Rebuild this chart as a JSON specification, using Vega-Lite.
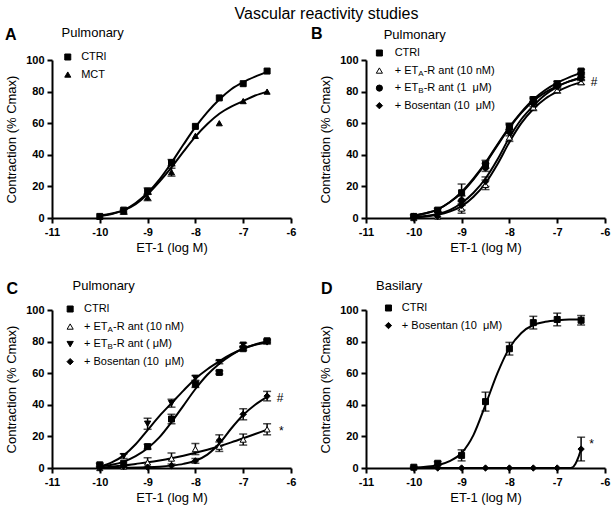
{
"$schema": "https://vega.github.io/schema/vega-lite/v6.json",
"padding": 5,
"title": {"text": "Vascular reactivity studies", "fontSize": 16, "fontWeight": "normal", "font": "Liberation Sans", "color": "black", "anchor": "middle", "dx": 19},
"datasets": {
"pts": [
{"p":"A","s":"CTRl","x":-10,"y":1,"e":0},{"p":"A","s":"CTRl","x":-9.5,"y":5,"e":0},{"p":"A","s":"CTRl","x":-9,"y":17,"e":2},{"p":"A","s":"CTRl","x":-8.5,"y":35,"e":2},{"p":"A","s":"CTRl","x":-8,"y":58,"e":0},{"p":"A","s":"CTRl","x":-7.5,"y":76,"e":0},{"p":"A","s":"CTRl","x":-7,"y":85,"e":0},{"p":"A","s":"CTRl","x":-6.5,"y":93,"e":0},
{"p":"A","s":"MCT","x":-10,"y":1,"e":0},{"p":"A","s":"MCT","x":-9.5,"y":4,"e":1.5},{"p":"A","s":"MCT","x":-9,"y":13,"e":2},{"p":"A","s":"MCT","x":-8.5,"y":29,"e":2.5},{"p":"A","s":"MCT","x":-8,"y":52,"e":0},{"p":"A","s":"MCT","x":-7.5,"y":60,"e":0},{"p":"A","s":"MCT","x":-7,"y":74,"e":0},{"p":"A","s":"MCT","x":-6.5,"y":80,"e":0},
{"p":"B","s":"CTRl","x":-10,"y":1,"e":1},{"p":"B","s":"CTRl","x":-9.5,"y":5,"e":1},{"p":"B","s":"CTRl","x":-9,"y":16,"e":5.5},{"p":"B","s":"CTRl","x":-8.5,"y":34,"e":2.5},{"p":"B","s":"CTRl","x":-8,"y":58,"e":2},{"p":"B","s":"CTRl","x":-7.5,"y":75,"e":1.5},{"p":"B","s":"CTRl","x":-7,"y":85,"e":1.5},{"p":"B","s":"CTRl","x":-6.5,"y":93,"e":1},
{"p":"B","s":"ETA","x":-10,"y":0,"e":0},{"p":"B","s":"ETA","x":-9.5,"y":1,"e":0},{"p":"B","s":"ETA","x":-9,"y":6,"e":3},{"p":"B","s":"ETA","x":-8.5,"y":21,"e":3},{"p":"B","s":"ETA","x":-8,"y":51,"e":2.5},{"p":"B","s":"ETA","x":-7.5,"y":70,"e":2},{"p":"B","s":"ETA","x":-7,"y":81,"e":2},{"p":"B","s":"ETA","x":-6.5,"y":86,"e":1.5},
{"p":"B","s":"ETB1","x":-10,"y":1,"e":0},{"p":"B","s":"ETB1","x":-9.5,"y":4,"e":0},{"p":"B","s":"ETB1","x":-9,"y":11,"e":3},{"p":"B","s":"ETB1","x":-8.5,"y":32,"e":2.5},{"p":"B","s":"ETB1","x":-8,"y":57,"e":2},{"p":"B","s":"ETB1","x":-7.5,"y":74,"e":1.5},{"p":"B","s":"ETB1","x":-7,"y":84,"e":1},{"p":"B","s":"ETB1","x":-6.5,"y":90,"e":1},
{"p":"B","s":"Bos","x":-10,"y":0,"e":0},{"p":"B","s":"Bos","x":-9.5,"y":1,"e":0},{"p":"B","s":"Bos","x":-9,"y":8,"e":3},{"p":"B","s":"Bos","x":-8.5,"y":23,"e":3},{"p":"B","s":"Bos","x":-8,"y":54,"e":2},{"p":"B","s":"Bos","x":-7.5,"y":72,"e":1.5},{"p":"B","s":"Bos","x":-7,"y":83,"e":1},{"p":"B","s":"Bos","x":-6.5,"y":88,"e":1},
{"p":"C","s":"CTRl","x":-10,"y":2,"e":1},{"p":"C","s":"CTRl","x":-9.5,"y":3,"e":0},{"p":"C","s":"CTRl","x":-9,"y":13.5,"e":1.5},{"p":"C","s":"CTRl","x":-8.5,"y":31,"e":3},{"p":"C","s":"CTRl","x":-8,"y":53,"e":2},{"p":"C","s":"CTRl","x":-7.5,"y":60.5,"e":1},{"p":"C","s":"CTRl","x":-7,"y":75.5,"e":1},{"p":"C","s":"CTRl","x":-6.5,"y":80.5,"e":1},
{"p":"C","s":"ETA","x":-10,"y":0,"e":0},{"p":"C","s":"ETA","x":-9.5,"y":1,"e":0},{"p":"C","s":"ETA","x":-9,"y":3.5,"e":3},{"p":"C","s":"ETA","x":-8.5,"y":6,"e":3.5},{"p":"C","s":"ETA","x":-8,"y":12,"e":3.5},{"p":"C","s":"ETA","x":-7.5,"y":13.5,"e":3},{"p":"C","s":"ETA","x":-7,"y":18,"e":3.5},{"p":"C","s":"ETA","x":-6.5,"y":24.5,"e":3.5},
{"p":"C","s":"ETB","x":-10,"y":0.5,"e":0},{"p":"C","s":"ETB","x":-9.5,"y":7.5,"e":1.5},{"p":"C","s":"ETB","x":-9,"y":28,"e":3.5},{"p":"C","s":"ETB","x":-8.5,"y":41,"e":2.5},{"p":"C","s":"ETB","x":-8,"y":57,"e":1.5},{"p":"C","s":"ETB","x":-7.5,"y":67,"e":1},{"p":"C","s":"ETB","x":-7,"y":78,"e":1},{"p":"C","s":"ETB","x":-6.5,"y":79.5,"e":1},
{"p":"C","s":"Bos","x":-10,"y":0,"e":0},{"p":"C","s":"Bos","x":-9.5,"y":1,"e":0},{"p":"C","s":"Bos","x":-9,"y":0.5,"e":0},{"p":"C","s":"Bos","x":-8.5,"y":1.5,"e":0},{"p":"C","s":"Bos","x":-8,"y":4.5,"e":1.5},{"p":"C","s":"Bos","x":-7.5,"y":17.5,"e":3.5},{"p":"C","s":"Bos","x":-7,"y":34,"e":3.5},{"p":"C","s":"Bos","x":-6.5,"y":45.5,"e":3},
{"p":"D","s":"CTRl","x":-10,"y":0.5,"e":0.5},{"p":"D","s":"CTRl","x":-9.5,"y":3,"e":1},{"p":"D","s":"CTRl","x":-9,"y":8,"e":3.5},{"p":"D","s":"CTRl","x":-8.5,"y":42,"e":6},{"p":"D","s":"CTRl","x":-8,"y":75.5,"e":4},{"p":"D","s":"CTRl","x":-7.5,"y":92,"e":4},{"p":"D","s":"CTRl","x":-7,"y":94,"e":4},{"p":"D","s":"CTRl","x":-6.5,"y":93.5,"e":3},
{"p":"D","s":"Bos","x":-10,"y":0,"e":0},{"p":"D","s":"Bos","x":-9.5,"y":0,"e":0},{"p":"D","s":"Bos","x":-9,"y":0,"e":0},{"p":"D","s":"Bos","x":-8.5,"y":0,"e":0},{"p":"D","s":"Bos","x":-8,"y":0,"e":0},{"p":"D","s":"Bos","x":-7.5,"y":0,"e":0},{"p":"D","s":"Bos","x":-7,"y":0,"e":0},{"p":"D","s":"Bos","x":-6.5,"y":12,"e":7.5}
],
"crv": [
{"p":"A","s":"CTRl","x":-10,"y":1.5},{"p":"A","s":"CTRl","x":-9.75,"y":2.8},{"p":"A","s":"CTRl","x":-9.5,"y":5},{"p":"A","s":"CTRl","x":-9.25,"y":9.5},{"p":"A","s":"CTRl","x":-9,"y":16},{"p":"A","s":"CTRl","x":-8.75,"y":24.5},{"p":"A","s":"CTRl","x":-8.5,"y":35},{"p":"A","s":"CTRl","x":-8.25,"y":46.5},{"p":"A","s":"CTRl","x":-8,"y":57.5},{"p":"A","s":"CTRl","x":-7.75,"y":67},{"p":"A","s":"CTRl","x":-7.5,"y":75},{"p":"A","s":"CTRl","x":-7.25,"y":81.5},{"p":"A","s":"CTRl","x":-7,"y":86},{"p":"A","s":"CTRl","x":-6.75,"y":89.5},{"p":"A","s":"CTRl","x":-6.5,"y":92.5},
{"p":"A","s":"MCT","x":-10,"y":1.2},{"p":"A","s":"MCT","x":-9.75,"y":2.5},{"p":"A","s":"MCT","x":-9.5,"y":4.8},{"p":"A","s":"MCT","x":-9.25,"y":8.8},{"p":"A","s":"MCT","x":-9,"y":15},{"p":"A","s":"MCT","x":-8.75,"y":23},{"p":"A","s":"MCT","x":-8.5,"y":32},{"p":"A","s":"MCT","x":-8.25,"y":42},{"p":"A","s":"MCT","x":-8,"y":51.5},{"p":"A","s":"MCT","x":-7.75,"y":59.5},{"p":"A","s":"MCT","x":-7.5,"y":66},{"p":"A","s":"MCT","x":-7.25,"y":70.5},{"p":"A","s":"MCT","x":-7,"y":74},{"p":"A","s":"MCT","x":-6.75,"y":77.5},{"p":"A","s":"MCT","x":-6.5,"y":80},
{"p":"B","s":"CTRl","x":-10,"y":1.5},{"p":"B","s":"CTRl","x":-9.75,"y":3},{"p":"B","s":"CTRl","x":-9.5,"y":5.5},{"p":"B","s":"CTRl","x":-9.25,"y":10},{"p":"B","s":"CTRl","x":-9,"y":16.5},{"p":"B","s":"CTRl","x":-8.75,"y":25},{"p":"B","s":"CTRl","x":-8.5,"y":35},{"p":"B","s":"CTRl","x":-8.25,"y":46.5},{"p":"B","s":"CTRl","x":-8,"y":57.5},{"p":"B","s":"CTRl","x":-7.75,"y":67},{"p":"B","s":"CTRl","x":-7.5,"y":75},{"p":"B","s":"CTRl","x":-7.25,"y":81},{"p":"B","s":"CTRl","x":-7,"y":85.5},{"p":"B","s":"CTRl","x":-6.75,"y":89},{"p":"B","s":"CTRl","x":-6.5,"y":92},
{"p":"B","s":"ETB1","x":-10,"y":1.5},{"p":"B","s":"ETB1","x":-9.75,"y":3},{"p":"B","s":"ETB1","x":-9.5,"y":5.5},{"p":"B","s":"ETB1","x":-9.25,"y":10},{"p":"B","s":"ETB1","x":-9,"y":16},{"p":"B","s":"ETB1","x":-8.75,"y":24.5},{"p":"B","s":"ETB1","x":-8.5,"y":34.5},{"p":"B","s":"ETB1","x":-8.25,"y":46},{"p":"B","s":"ETB1","x":-8,"y":57},{"p":"B","s":"ETB1","x":-7.75,"y":66.5},{"p":"B","s":"ETB1","x":-7.5,"y":74},{"p":"B","s":"ETB1","x":-7.25,"y":79.5},{"p":"B","s":"ETB1","x":-7,"y":83.5},{"p":"B","s":"ETB1","x":-6.75,"y":86.5},{"p":"B","s":"ETB1","x":-6.5,"y":89},
{"p":"B","s":"Bos","x":-10,"y":0.5},{"p":"B","s":"Bos","x":-9.75,"y":1.2},{"p":"B","s":"Bos","x":-9.5,"y":2.5},{"p":"B","s":"Bos","x":-9.25,"y":5},{"p":"B","s":"Bos","x":-9,"y":9.5},{"p":"B","s":"Bos","x":-8.75,"y":16},{"p":"B","s":"Bos","x":-8.5,"y":25},{"p":"B","s":"Bos","x":-8.25,"y":37},{"p":"B","s":"Bos","x":-8,"y":51},{"p":"B","s":"Bos","x":-7.75,"y":62.5},{"p":"B","s":"Bos","x":-7.5,"y":71},{"p":"B","s":"Bos","x":-7.25,"y":78},{"p":"B","s":"Bos","x":-7,"y":83},{"p":"B","s":"Bos","x":-6.75,"y":86.5},{"p":"B","s":"Bos","x":-6.5,"y":88.5},
{"p":"B","s":"ETA","x":-10,"y":0.5},{"p":"B","s":"ETA","x":-9.75,"y":1},{"p":"B","s":"ETA","x":-9.5,"y":2},{"p":"B","s":"ETA","x":-9.25,"y":4},{"p":"B","s":"ETA","x":-9,"y":7.5},{"p":"B","s":"ETA","x":-8.75,"y":13.5},{"p":"B","s":"ETA","x":-8.5,"y":22},{"p":"B","s":"ETA","x":-8.25,"y":34},{"p":"B","s":"ETA","x":-8,"y":48},{"p":"B","s":"ETA","x":-7.75,"y":60},{"p":"B","s":"ETA","x":-7.5,"y":69},{"p":"B","s":"ETA","x":-7.25,"y":75.5},{"p":"B","s":"ETA","x":-7,"y":80},{"p":"B","s":"ETA","x":-6.75,"y":83.5},{"p":"B","s":"ETA","x":-6.5,"y":86},
{"p":"C","s":"CTRl","x":-10,"y":1},{"p":"C","s":"CTRl","x":-9.75,"y":2},{"p":"C","s":"CTRl","x":-9.5,"y":4},{"p":"C","s":"CTRl","x":-9.25,"y":7.5},{"p":"C","s":"CTRl","x":-9,"y":12.5},{"p":"C","s":"CTRl","x":-8.75,"y":19.5},{"p":"C","s":"CTRl","x":-8.5,"y":29},{"p":"C","s":"CTRl","x":-8.25,"y":39.5},{"p":"C","s":"CTRl","x":-8,"y":50},{"p":"C","s":"CTRl","x":-7.75,"y":59},{"p":"C","s":"CTRl","x":-7.5,"y":66},{"p":"C","s":"CTRl","x":-7.25,"y":71.5},{"p":"C","s":"CTRl","x":-7,"y":75.5},{"p":"C","s":"CTRl","x":-6.75,"y":78.2},{"p":"C","s":"CTRl","x":-6.5,"y":80},
{"p":"C","s":"ETB","x":-10,"y":0.8},{"p":"C","s":"ETB","x":-9.75,"y":3.5},{"p":"C","s":"ETB","x":-9.5,"y":8},{"p":"C","s":"ETB","x":-9.25,"y":15},{"p":"C","s":"ETB","x":-9,"y":24},{"p":"C","s":"ETB","x":-8.75,"y":33},{"p":"C","s":"ETB","x":-8.5,"y":41},{"p":"C","s":"ETB","x":-8.25,"y":49},{"p":"C","s":"ETB","x":-8,"y":56.5},{"p":"C","s":"ETB","x":-7.75,"y":62.5},{"p":"C","s":"ETB","x":-7.5,"y":67.5},{"p":"C","s":"ETB","x":-7.25,"y":72},{"p":"C","s":"ETB","x":-7,"y":75.5},{"p":"C","s":"ETB","x":-6.75,"y":78},{"p":"C","s":"ETB","x":-6.5,"y":79.5},
{"p":"C","s":"ETA","x":-10,"y":0},{"p":"C","s":"ETA","x":-9.75,"y":0.8},{"p":"C","s":"ETA","x":-9.5,"y":1.6},{"p":"C","s":"ETA","x":-9.25,"y":2.6},{"p":"C","s":"ETA","x":-9,"y":3.6},{"p":"C","s":"ETA","x":-8.75,"y":4.8},{"p":"C","s":"ETA","x":-8.5,"y":6.2},{"p":"C","s":"ETA","x":-8.25,"y":7.8},{"p":"C","s":"ETA","x":-8,"y":9.6},{"p":"C","s":"ETA","x":-7.75,"y":11.6},{"p":"C","s":"ETA","x":-7.5,"y":13.8},{"p":"C","s":"ETA","x":-7.25,"y":16.2},{"p":"C","s":"ETA","x":-7,"y":18.8},{"p":"C","s":"ETA","x":-6.75,"y":21.5},{"p":"C","s":"ETA","x":-6.5,"y":24.2},
{"p":"C","s":"Bos","x":-10,"y":0},{"p":"C","s":"Bos","x":-9.5,"y":0.1},{"p":"C","s":"Bos","x":-9,"y":0.4},{"p":"C","s":"Bos","x":-8.75,"y":0.8},{"p":"C","s":"Bos","x":-8.5,"y":1.5},{"p":"C","s":"Bos","x":-8.25,"y":2.6},{"p":"C","s":"Bos","x":-8,"y":4.6},{"p":"C","s":"Bos","x":-7.75,"y":8.5},{"p":"C","s":"Bos","x":-7.5,"y":15.5},{"p":"C","s":"Bos","x":-7.25,"y":25},{"p":"C","s":"Bos","x":-7,"y":33.5},{"p":"C","s":"Bos","x":-6.75,"y":40},{"p":"C","s":"Bos","x":-6.5,"y":45},
{"p":"D","s":"CTRl","x":-10,"y":0.3},{"p":"D","s":"CTRl","x":-9.75,"y":0.8},{"p":"D","s":"CTRl","x":-9.5,"y":1.8},{"p":"D","s":"CTRl","x":-9.25,"y":4.4},{"p":"D","s":"CTRl","x":-9,"y":9.5},{"p":"D","s":"CTRl","x":-8.75,"y":21},{"p":"D","s":"CTRl","x":-8.5,"y":40},{"p":"D","s":"CTRl","x":-8.25,"y":60},{"p":"D","s":"CTRl","x":-8,"y":76},{"p":"D","s":"CTRl","x":-7.75,"y":85.5},{"p":"D","s":"CTRl","x":-7.5,"y":90.5},{"p":"D","s":"CTRl","x":-7.25,"y":92.5},{"p":"D","s":"CTRl","x":-7,"y":93.5},{"p":"D","s":"CTRl","x":-6.75,"y":94},{"p":"D","s":"CTRl","x":-6.5,"y":94},
{"p":"D","s":"Bos","x":-10,"y":0},{"p":"D","s":"Bos","x":-7,"y":0},{"p":"D","s":"Bos","x":-6.75,"y":0},{"p":"D","s":"Bos","x":-6.68,"y":0.4},{"p":"D","s":"Bos","x":-6.62,"y":2.5},{"p":"D","s":"Bos","x":-6.56,"y":6.5},{"p":"D","s":"Bos","x":-6.5,"y":12}
],
"leg": [
{"p":"A","s":"CTRl","r":1,"pre":"CTRl","sub":"","post":""},
{"p":"A","s":"MCT","r":2,"pre":"MCT","sub":"","post":""},
{"p":"B","s":"CTRl","r":1,"pre":"CTRl","sub":"","post":""},
{"p":"B","s":"ETA","r":2,"pre":"+ ET","sub":"A","post":"-R ant (10 nM)"},
{"p":"B","s":"ETB1","r":3,"pre":"+ ET","sub":"B","post":"-R ant (1 \u00a0μM)"},
{"p":"B","s":"Bos","r":4,"pre":"+ Bosentan (10 \u00a0μM)","sub":"","post":""},
{"p":"C","s":"CTRl","r":1,"pre":"CTRl","sub":"","post":""},
{"p":"C","s":"ETA","r":2,"pre":"+ ET","sub":"A","post":"-R ant (10 nM)"},
{"p":"C","s":"ETB","r":3,"pre":"+ ET","sub":"B","post":"-R ant (\u00a0μM)"},
{"p":"C","s":"Bos","r":4,"pre":"+ Bosentan (10 \u00a0μM)","sub":"","post":""},
{"p":"D","s":"CTRl","r":1,"pre":"CTRl","sub":"","post":""},
{"p":"D","s":"Bos","r":2,"pre":"+ Bosentan (10 \u00a0μM)","sub":"","post":""}
],
"ann": [
{"p":"B","t":"#","x":-6.3,"y":86},
{"p":"C","t":"#","x":-6.3,"y":44.6},
{"p":"C","t":"*","x":-6.25,"y":23.4},
{"p":"D","t":"*","x":-6.33,"y":15.5}
],
"hdr": [
{"p":"A","letter":"A","tissue":"Pulmonary"},
{"p":"B","letter":"B","tissue":"Pulmonary"},
{"p":"C","letter":"C","tissue":"Pulmonary"},
{"p":"D","letter":"D","tissue":"Basilary"}
]
},
"columns": 2,
"spacing": {"row": 92, "column": 75},
"bounds": "flush",
"concat": [
{"width": 239, "height": 158, "resolve": {"scale": {"y": "independent"}},
 "layer": [
  {"encoding": {"x": {"field": "x", "type": "quantitative", "scale": {"domain": [-11, -6], "nice": false, "zero": false}, "axis": {"values": [-11, -10, -9, -8, -7, -6], "labelExpr": "'' + datum.value", "title": "ET-1 (log M)", "labelFlush": false, "labelOverlap": false}},
    "y": {"field": "y", "type": "quantitative", "scale": {"domain": [0, 100], "nice": false}, "axis": {"values": [0, 20, 40, 60, 80, 100], "labelExpr": "'' + datum.value", "title": "Contraction (% Cmax)", "labelOverlap": false}}},
   "layer": [
   {"data": {"name": "crv"}, "transform": [{"filter": "datum.p == 'A'"}], "mark": {"type": "line", "color": "black", "strokeWidth": 2, "interpolate": "monotone"}, "encoding": {"detail": {"field": "s"}}},
   {"data": {"name": "pts"}, "transform": [{"filter": "datum.p == 'A' && datum.e > 0"}], "mark": {"type": "errorbar", "ticks": true, "color": "black", "thickness": 1.5, "size": 8}, "encoding": {"yError": {"field": "e"}}},
   {"data": {"name": "pts"}, "transform": [{"filter": "datum.p == 'A'"}], "mark": {"type": "point", "filled": true, "stroke": "black", "strokeWidth": 1, "opacity": 1},
    "encoding": {
     "shape": {"field": "s", "type": "nominal", "scale": {"domain": ["CTRl","MCT","ETA","ETB1","ETB","Bos"], "range": ["square","triangle-up","triangle-up","circle","triangle-down","diamond"]}, "legend": null},
     "fill": {"field": "s", "type": "nominal", "scale": {"domain": ["CTRl","MCT","ETA","ETB1","ETB","Bos"], "range": ["black","black","white","black","black","black"]}, "legend": null},
     "size": {"field": "s", "type": "ordinal", "scale": {"domain": ["CTRl","MCT","ETA","ETB1","ETB","Bos"], "range": [36,40,40,36,40,26]}, "legend": null}}}
  ]},
  {"data": {"name": "hdr"}, "transform": [{"filter": "datum.p == 'A'"}], "mark": {"type": "text", "fontSize": 16, "fontWeight": "bold", "align": "center", "baseline": "middle", "color": "black"},
   "encoding": {"x": {"datum": -11.86}, "y": {"datum": 116, "scale": {"domain": [0, 100], "nice": false}, "axis": null}, "text": {"field": "letter"}}},
  {"data": {"name": "hdr"}, "transform": [{"filter": "datum.p == 'A'"}], "mark": {"type": "text", "fontSize": 13, "align": "left", "baseline": "middle", "color": "black"},
   "encoding": {"x": {"datum": -10.8}, "y": {"datum": 117, "scale": {"domain": [0, 100], "nice": false}, "axis": null}, "text": {"field": "tissue"}}},
  {"data": {"name": "leg"}, "transform": [{"filter": "datum.p == 'A'"}],
   "encoding": {"y": {"field": "r", "type": "ordinal", "scale": {"domain": [1,2,3,4,5,6,7,8,9,10], "padding": 0}, "axis": null}},
   "layer": [
    {"mark": {"type": "point", "filled": true, "stroke": "black", "strokeWidth": 1, "opacity": 1, "yOffset": -3},
     "encoding": {"x": {"datum": -10.67}, "shape": {"field": "s", "type": "nominal", "legend": null}, "fill": {"field": "s", "type": "nominal", "legend": null}, "size": {"field": "s", "type": "ordinal", "legend": null}}},
    {"mark": {"type": "text", "fontSize": 11, "align": "left", "baseline": "middle", "dy": -3, "color": "black"}, "encoding": {"x": {"datum": -10.39}, "text": {"field": "pre"}}}
   ]}
 ]},
{"width": 239, "height": 158, "resolve": {"scale": {"y": "independent"}},
 "layer": [
  {"encoding": {"x": {"field": "x", "type": "quantitative", "scale": {"domain": [-11, -6], "nice": false, "zero": false}, "axis": {"values": [-11, -10, -9, -8, -7, -6], "labelExpr": "'' + datum.value", "title": "ET-1 (log M)", "labelFlush": false, "labelOverlap": false}},
    "y": {"field": "y", "type": "quantitative", "scale": {"domain": [0, 100], "nice": false}, "axis": {"values": [0, 20, 40, 60, 80, 100], "labelExpr": "'' + datum.value", "title": "Contraction (% Cmax)", "labelOverlap": false}}},
   "layer": [
   {"data": {"name": "crv"}, "transform": [{"filter": "datum.p == 'B'"}], "mark": {"type": "line", "color": "black", "strokeWidth": 2, "interpolate": "monotone"}, "encoding": {"detail": {"field": "s"}}},
   {"data": {"name": "pts"}, "transform": [{"filter": "datum.p == 'B' && datum.e > 0"}], "mark": {"type": "errorbar", "ticks": true, "color": "black", "thickness": 1.5, "size": 8}, "encoding": {"yError": {"field": "e"}}},
   {"data": {"name": "pts"}, "transform": [{"filter": "datum.p == 'B'"}], "mark": {"type": "point", "filled": true, "stroke": "black", "strokeWidth": 1, "opacity": 1},
    "encoding": {
     "shape": {"field": "s", "type": "nominal", "scale": {"domain": ["CTRl","MCT","ETA","ETB1","ETB","Bos"], "range": ["square","triangle-up","triangle-up","circle","triangle-down","diamond"]}, "legend": null},
     "fill": {"field": "s", "type": "nominal", "scale": {"domain": ["CTRl","MCT","ETA","ETB1","ETB","Bos"], "range": ["black","black","white","black","black","black"]}, "legend": null},
     "size": {"field": "s", "type": "ordinal", "scale": {"domain": ["CTRl","MCT","ETA","ETB1","ETB","Bos"], "range": [36,40,40,36,40,26]}, "legend": null}}},
   {"data": {"name": "ann"}, "transform": [{"filter": "datum.p == 'B'"}], "mark": {"type": "text", "fontSize": 12, "align": "left", "baseline": "middle", "color": "black"}, "encoding": {"text": {"field": "t"}}}
  ]},
  {"data": {"name": "hdr"}, "transform": [{"filter": "datum.p == 'B'"}], "mark": {"type": "text", "fontSize": 16, "fontWeight": "bold", "align": "center", "baseline": "middle", "color": "black"},
   "encoding": {"x": {"datum": -12.03}, "y": {"datum": 116.5, "scale": {"domain": [0, 100], "nice": false}, "axis": null}, "text": {"field": "letter"}}},
  {"data": {"name": "hdr"}, "transform": [{"filter": "datum.p == 'B'"}], "mark": {"type": "text", "fontSize": 13, "align": "left", "baseline": "middle", "color": "black"},
   "encoding": {"x": {"datum": -10.63}, "y": {"datum": 116, "scale": {"domain": [0, 100], "nice": false}, "axis": null}, "text": {"field": "tissue"}}},
  {"data": {"name": "leg"}, "transform": [{"filter": "datum.p == 'B'"}],
   "encoding": {"y": {"field": "r", "type": "ordinal", "scale": {"domain": [1,2,3,4,5,6,7,8,9,10], "padding": 0}, "axis": null}},
   "layer": [
    {"mark": {"type": "point", "filled": true, "stroke": "black", "strokeWidth": 1, "opacity": 1, "yOffset": -7},
     "encoding": {"x": {"datum": -10.72}, "shape": {"field": "s", "type": "nominal", "legend": null}, "fill": {"field": "s", "type": "nominal", "legend": null}, "size": {"field": "s", "type": "ordinal", "legend": null}}},
    {"mark": {"type": "text", "fontSize": 11, "align": "left", "baseline": "middle", "dy": -7, "color": "black"}, "encoding": {"x": {"datum": -10.4}, "text": {"field": "pre"}}},
    {"mark": {"type": "text", "fontSize": 8, "align": "left", "baseline": "middle", "dx": 23.5, "dy": -4, "color": "black"}, "encoding": {"x": {"datum": -10.4}, "text": {"field": "sub"}}},
    {"mark": {"type": "text", "fontSize": 11, "align": "left", "baseline": "middle", "dx": 29, "dy": -7, "color": "black"}, "encoding": {"x": {"datum": -10.4}, "text": {"field": "post"}}}
   ]}
 ]},
{"width": 239, "height": 158, "resolve": {"scale": {"y": "independent"}},
 "layer": [
  {"encoding": {"x": {"field": "x", "type": "quantitative", "scale": {"domain": [-11, -6], "nice": false, "zero": false}, "axis": {"values": [-11, -10, -9, -8, -7, -6], "labelExpr": "'' + datum.value", "title": "ET-1 (log M)", "labelFlush": false, "labelOverlap": false}},
    "y": {"field": "y", "type": "quantitative", "scale": {"domain": [0, 100], "nice": false}, "axis": {"values": [0, 20, 40, 60, 80, 100], "labelExpr": "'' + datum.value", "title": "Contraction (% Cmax)", "labelOverlap": false}}},
   "layer": [
   {"data": {"name": "crv"}, "transform": [{"filter": "datum.p == 'C'"}], "mark": {"type": "line", "color": "black", "strokeWidth": 2, "interpolate": "monotone"}, "encoding": {"detail": {"field": "s"}}},
   {"data": {"name": "pts"}, "transform": [{"filter": "datum.p == 'C' && datum.e > 0"}], "mark": {"type": "errorbar", "ticks": true, "color": "black", "thickness": 1.5, "size": 8}, "encoding": {"yError": {"field": "e"}}},
   {"data": {"name": "pts"}, "transform": [{"filter": "datum.p == 'C'"}], "mark": {"type": "point", "filled": true, "stroke": "black", "strokeWidth": 1, "opacity": 1},
    "encoding": {
     "shape": {"field": "s", "type": "nominal", "scale": {"domain": ["CTRl","MCT","ETA","ETB1","ETB","Bos"], "range": ["square","triangle-up","triangle-up","circle","triangle-down","diamond"]}, "legend": null},
     "fill": {"field": "s", "type": "nominal", "scale": {"domain": ["CTRl","MCT","ETA","ETB1","ETB","Bos"], "range": ["black","black","white","black","black","black"]}, "legend": null},
     "size": {"field": "s", "type": "ordinal", "scale": {"domain": ["CTRl","MCT","ETA","ETB1","ETB","Bos"], "range": [36,40,40,36,40,26]}, "legend": null}}},
   {"data": {"name": "ann"}, "transform": [{"filter": "datum.p == 'C'"}], "mark": {"type": "text", "fontSize": 12, "align": "left", "baseline": "middle", "color": "black"}, "encoding": {"text": {"field": "t"}}}
  ]},
  {"data": {"name": "hdr"}, "transform": [{"filter": "datum.p == 'C'"}], "mark": {"type": "text", "fontSize": 16, "fontWeight": "bold", "align": "center", "baseline": "middle", "color": "black"},
   "encoding": {"x": {"datum": -11.83}, "y": {"datum": 113.5, "scale": {"domain": [0, 100], "nice": false}, "axis": null}, "text": {"field": "letter"}}},
  {"data": {"name": "hdr"}, "transform": [{"filter": "datum.p == 'C'"}], "mark": {"type": "text", "fontSize": 13, "align": "left", "baseline": "middle", "color": "black"},
   "encoding": {"x": {"datum": -10.57}, "y": {"datum": 115.4, "scale": {"domain": [0, 100], "nice": false}, "axis": null}, "text": {"field": "tissue"}}},
  {"data": {"name": "leg"}, "transform": [{"filter": "datum.p == 'C'"}],
   "encoding": {"y": {"field": "r", "type": "ordinal", "scale": {"domain": [1,2,3,4,5,6,7,8,9,10], "padding": 0}, "axis": null}},
   "layer": [
    {"mark": {"type": "point", "filled": true, "stroke": "black", "strokeWidth": 1, "opacity": 1, "yOffset": -1},
     "encoding": {"x": {"datum": -10.62}, "shape": {"field": "s", "type": "nominal", "legend": null}, "fill": {"field": "s", "type": "nominal", "legend": null}, "size": {"field": "s", "type": "ordinal", "legend": null}}},
    {"mark": {"type": "text", "fontSize": 11, "align": "left", "baseline": "middle", "dy": -1, "color": "black"}, "encoding": {"x": {"datum": -10.33}, "text": {"field": "pre"}}},
    {"mark": {"type": "text", "fontSize": 8, "align": "left", "baseline": "middle", "dx": 23.5, "dy": 2, "color": "black"}, "encoding": {"x": {"datum": -10.33}, "text": {"field": "sub"}}},
    {"mark": {"type": "text", "fontSize": 11, "align": "left", "baseline": "middle", "dx": 29, "dy": -1, "color": "black"}, "encoding": {"x": {"datum": -10.33}, "text": {"field": "post"}}}
   ]}
 ]},
{"width": 239, "height": 158, "resolve": {"scale": {"y": "independent"}},
 "layer": [
  {"encoding": {"x": {"field": "x", "type": "quantitative", "scale": {"domain": [-11, -6], "nice": false, "zero": false}, "axis": {"values": [-11, -10, -9, -8, -7, -6], "labelExpr": "'' + datum.value", "title": "ET-1 (log M)", "labelFlush": false, "labelOverlap": false}},
    "y": {"field": "y", "type": "quantitative", "scale": {"domain": [0, 100], "nice": false}, "axis": {"values": [0, 20, 40, 60, 80, 100], "labelExpr": "'' + datum.value", "title": "Contraction (% Cmax)", "labelOverlap": false}}},
   "layer": [
   {"data": {"name": "crv"}, "transform": [{"filter": "datum.p == 'D'"}], "mark": {"type": "line", "color": "black", "strokeWidth": 2, "interpolate": "monotone"}, "encoding": {"detail": {"field": "s"}}},
   {"data": {"name": "pts"}, "transform": [{"filter": "datum.p == 'D' && datum.e > 0"}], "mark": {"type": "errorbar", "ticks": true, "color": "black", "thickness": 1.5, "size": 8}, "encoding": {"yError": {"field": "e"}}},
   {"data": {"name": "pts"}, "transform": [{"filter": "datum.p == 'D'"}], "mark": {"type": "point", "filled": true, "stroke": "black", "strokeWidth": 1, "opacity": 1},
    "encoding": {
     "shape": {"field": "s", "type": "nominal", "scale": {"domain": ["CTRl","MCT","ETA","ETB1","ETB","Bos"], "range": ["square","triangle-up","triangle-up","circle","triangle-down","diamond"]}, "legend": null},
     "fill": {"field": "s", "type": "nominal", "scale": {"domain": ["CTRl","MCT","ETA","ETB1","ETB","Bos"], "range": ["black","black","white","black","black","black"]}, "legend": null},
     "size": {"field": "s", "type": "ordinal", "scale": {"domain": ["CTRl","MCT","ETA","ETB1","ETB","Bos"], "range": [36,40,40,36,40,26]}, "legend": null}}},
   {"data": {"name": "ann"}, "transform": [{"filter": "datum.p == 'D'"}], "mark": {"type": "text", "fontSize": 12, "align": "left", "baseline": "middle", "color": "black"}, "encoding": {"text": {"field": "t"}}}
  ]},
  {"data": {"name": "hdr"}, "transform": [{"filter": "datum.p == 'D'"}], "mark": {"type": "text", "fontSize": 16, "fontWeight": "bold", "align": "center", "baseline": "middle", "color": "black"},
   "encoding": {"x": {"datum": -11.82}, "y": {"datum": 113, "scale": {"domain": [0, 100], "nice": false}, "axis": null}, "text": {"field": "letter"}}},
  {"data": {"name": "hdr"}, "transform": [{"filter": "datum.p == 'D'"}], "mark": {"type": "text", "fontSize": 13, "align": "left", "baseline": "middle", "color": "black"},
   "encoding": {"x": {"datum": -10.79}, "y": {"datum": 115, "scale": {"domain": [0, 100], "nice": false}, "axis": null}, "text": {"field": "tissue"}}},
  {"data": {"name": "leg"}, "transform": [{"filter": "datum.p == 'D'"}],
   "encoding": {"y": {"field": "r", "type": "ordinal", "scale": {"domain": [1,2,3,4,5,6,7,8,9,10], "padding": 0}, "axis": null}},
   "layer": [
    {"mark": {"type": "point", "filled": true, "stroke": "black", "strokeWidth": 1, "opacity": 1, "yOffset": -2},
     "encoding": {"x": {"datum": -10.53}, "shape": {"field": "s", "type": "nominal", "legend": null}, "fill": {"field": "s", "type": "nominal", "legend": null}, "size": {"field": "s", "type": "ordinal", "legend": null}}},
    {"mark": {"type": "text", "fontSize": 11, "align": "left", "baseline": "middle", "dy": -2, "color": "black"}, "encoding": {"x": {"datum": -10.25}, "text": {"field": "pre"}}}
   ]}
 ]}
],
"config": {
 "view": {"stroke": null},
 "font": "Liberation Sans",
 "text": {"font": "Liberation Sans"},
 "axis": {"grid": false, "domainColor": "black", "domainWidth": 2, "tickColor": "black", "tickWidth": 2, "tickSize": 5, "labelFont": "Liberation Sans", "labelFontSize": 11, "labelFontWeight": "bold", "labelColor": "black", "labelPadding": 3, "titleFont": "Liberation Sans", "titleFontSize": 13, "titleFontWeight": "normal", "titleColor": "black"},
 "axisY": {"titlePadding": 7},
 "axisX": {"titlePadding": 4}
}
}
